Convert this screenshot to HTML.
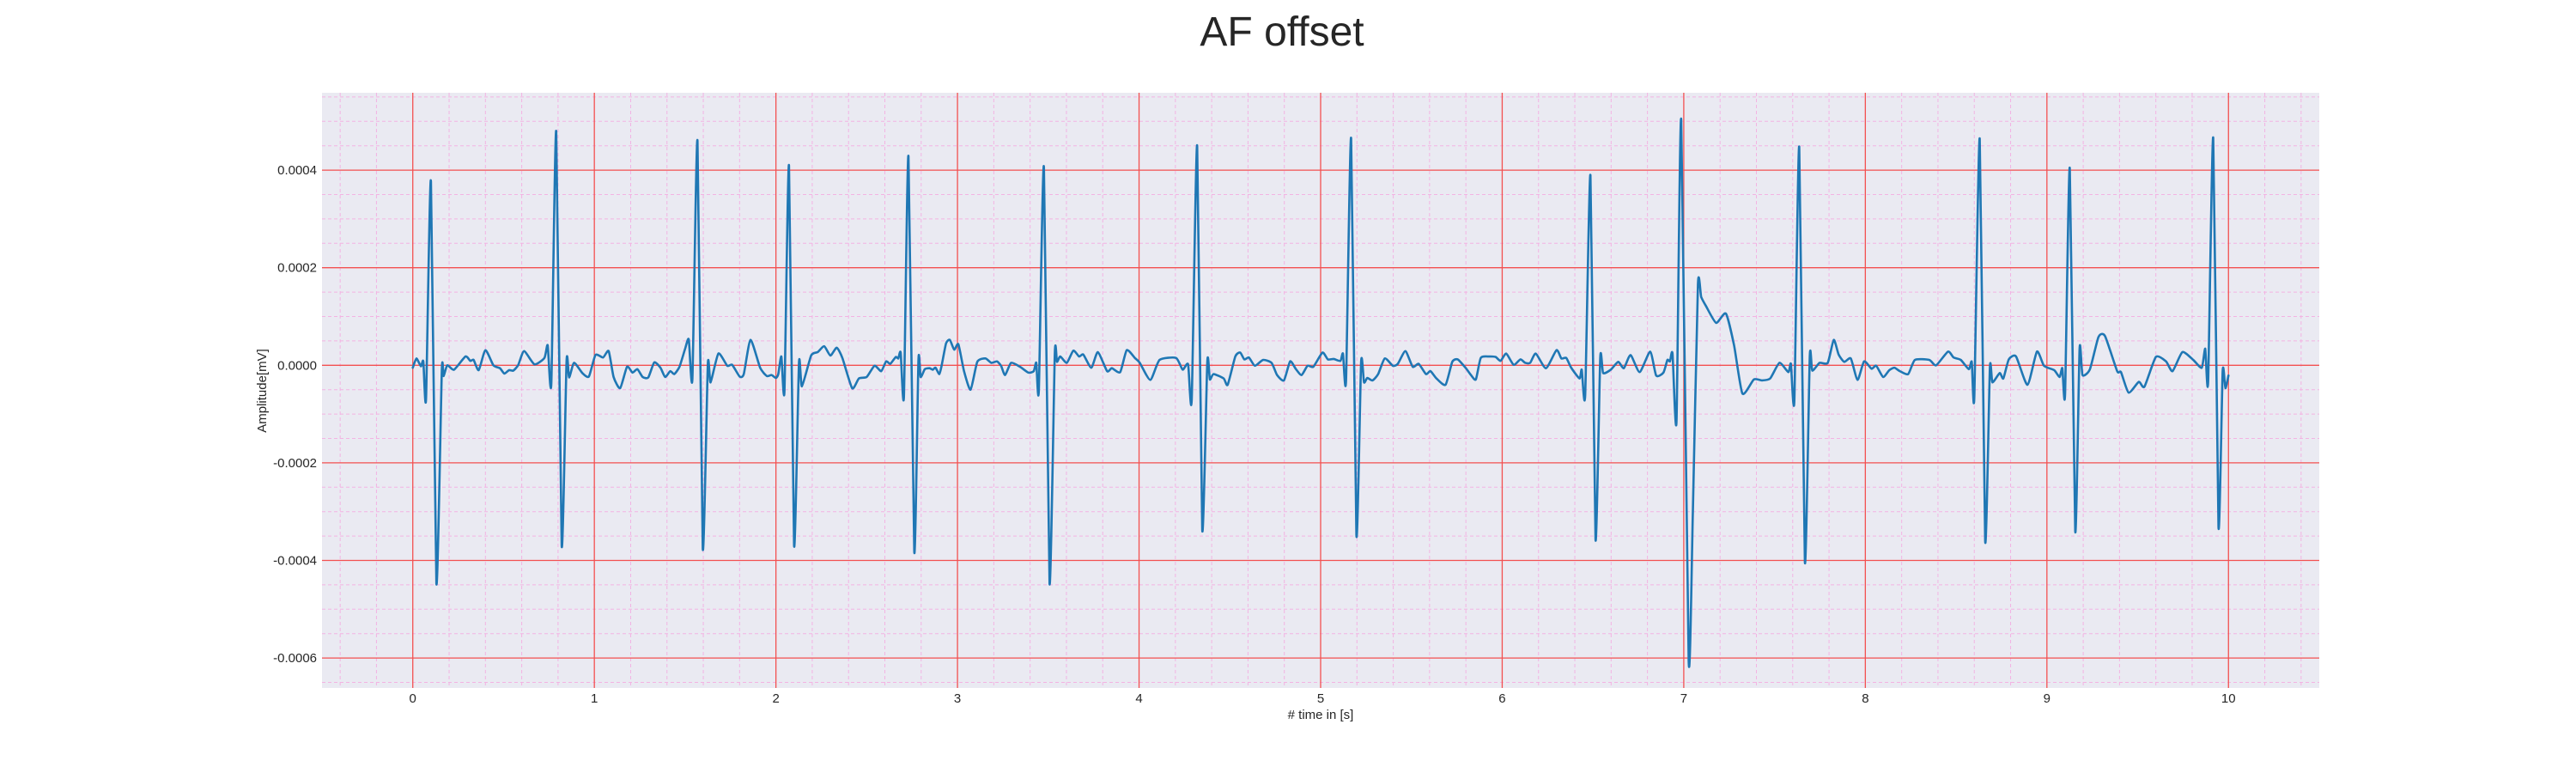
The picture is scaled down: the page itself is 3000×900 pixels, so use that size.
<!DOCTYPE html>
<html><head><meta charset="utf-8"><style>
html,body{margin:0;padding:0;background:#fff;}
svg{display:block;font-family:"Liberation Sans",sans-serif;}
</style></head><body>
<svg id="chart" width="3000" height="900" viewBox="0 0 3000 900" xmlns="http://www.w3.org/2000/svg">
<text x="1493" y="53" font-size="48" text-anchor="middle" fill="#262626">AF offset</text>
<rect x="375" y="108" width="2326" height="693" fill="#EAEAF2"/>
<g id="grid"></g>
<g id="ticks"></g>
<g id="series"></g>
<text x="1538" y="837" font-size="15" text-anchor="middle" fill="#262626"># time in [s]</text>
<text x="0" y="0" font-size="15" text-anchor="middle" fill="#262626" transform="translate(310,455) rotate(-90)">Amplitude[mV]</text>
</svg>
<script>
const xTicks = [0,1,2,3,4,5,6,7,8,9,10];
const yTicks = [0.0004,0.0002,0.0000,-0.0002,-0.0004,-0.0006];
const yTickLabels = ["0.0004","0.0002","0.0000","-0.0002","-0.0004","-0.0006"];
// signal samples: time [s] and amplitude in units of 1e-4 mV
const timeS = [0,0.02,0.045,0.058,0.073,0.10,0.13,0.16,0.17,0.19,0.227,0.29,0.317,0.335,0.363,0.40,0.444,0.48,0.504,0.53,0.553,0.58,0.613,0.67,0.725,0.743,0.763,0.79,0.82,0.847,0.861,0.888,0.934,0.97,1.006,1.048,1.079,1.106,1.142,1.18,1.21,1.237,1.266,1.297,1.33,1.364,1.39,1.418,1.44,1.469,1.50,1.52,1.54,1.568,1.597,1.625,1.64,1.683,1.732,1.759,1.80,1.823,1.86,1.913,1.95,1.976,2.0,2.013,2.03,2.047,2.072,2.10,2.127,2.143,2.194,2.23,2.266,2.30,2.335,2.366,2.42,2.457,2.50,2.543,2.58,2.607,2.63,2.66,2.674,2.687,2.705,2.73,2.762,2.785,2.797,2.82,2.846,2.864,2.879,2.90,2.913,2.937,2.958,2.982,3.005,3.036,3.072,3.109,3.154,3.186,3.217,3.24,3.262,3.295,3.344,3.39,3.42,3.434,3.448,3.476,3.507,3.536,3.548,3.566,3.602,3.638,3.67,3.693,3.737,3.773,3.824,3.85,3.896,3.932,3.977,4.004,4.062,4.113,4.204,4.24,4.27,4.29,4.32,4.348,4.376,4.39,4.41,4.466,4.488,4.53,4.557,4.58,4.605,4.638,4.683,4.73,4.76,4.798,4.832,4.864,4.895,4.928,4.96,5.01,5.04,5.072,5.109,5.123,5.14,5.168,5.197,5.223,5.239,5.257,5.286,5.317,5.353,5.398,5.425,5.467,5.507,5.54,5.58,5.605,5.638,5.688,5.725,5.755,5.80,5.828,5.855,5.882,5.928,5.964,5.991,6.022,6.063,6.10,6.127,6.154,6.185,6.241,6.299,6.326,6.353,6.38,6.426,6.438,6.457,6.486,6.514,6.54,6.556,6.598,6.639,6.67,6.707,6.757,6.815,6.848,6.888,6.91,6.924,6.938,6.96,6.986,7.027,7.05,7.078,7.096,7.123,7.178,7.232,7.277,7.323,7.386,7.431,7.476,7.527,7.576,7.59,7.609,7.636,7.667,7.694,7.708,7.748,7.793,7.826,7.853,7.884,7.92,7.957,7.993,8.034,8.06,8.098,8.132,8.16,8.19,8.236,8.273,8.352,8.39,8.455,8.486,8.526,8.57,8.586,8.60,8.63,8.66,8.686,8.70,8.74,8.76,8.79,8.83,8.893,8.945,8.984,9.04,9.07,9.085,9.10,9.126,9.156,9.18,9.196,9.237,9.284,9.32,9.387,9.408,9.45,9.506,9.537,9.60,9.656,9.692,9.746,9.806,9.853,9.872,9.888,9.916,9.945,9.968,9.983,10.0];
const ampE4 = [-0.05,0.14,-0.02,0.08,-0.69,3.77,-4.47,-0.1,-0.22,0,-0.09,0.18,0.09,0.11,-0.1,0.31,0,-0.06,-0.17,-0.1,-0.11,0,0.29,0.02,0.15,0.41,-0.37,4.79,-3.69,0.09,-0.25,0.05,-0.16,-0.23,0.21,0.16,0.29,-0.24,-0.47,-0.03,-0.15,-0.08,-0.24,-0.25,0.06,-0.05,-0.24,-0.12,-0.18,-0.03,0.34,0.53,-0.27,4.6,-3.75,0.02,-0.35,0.24,-0.01,0.01,-0.23,-0.18,0.52,-0.05,-0.22,-0.2,-0.26,-0.18,0.18,-0.53,4.09,-3.69,0.05,-0.43,0.2,0.27,0.39,0.2,0.36,0.15,-0.47,-0.27,-0.24,-0.01,-0.12,0.08,0.03,0.17,0.14,0.26,-0.64,4.28,-3.82,0.11,-0.24,-0.08,-0.06,-0.09,-0.05,-0.18,0,0.45,0.52,0.32,0.43,-0.12,-0.5,0.07,0.14,0.05,0.08,-0.01,-0.2,0.05,-0.03,-0.15,-0.12,0.05,-0.52,4.06,-4.47,0.24,0.07,0.18,0.05,0.3,0.18,0.22,-0.05,0.27,-0.12,-0.06,-0.14,0.31,0.15,0.05,-0.3,0.11,0.15,-0.09,0.02,-0.71,4.5,-3.37,0.08,-0.29,-0.18,-0.27,-0.4,0.18,0.26,0.12,0.16,-0.01,0.11,0.05,-0.2,-0.31,0.08,-0.08,-0.2,-0.01,-0.03,0.26,0.12,0.13,0.09,0.24,-0.31,4.65,-3.48,0.07,-0.35,-0.26,-0.31,-0.18,0.14,-0.01,0.03,0.29,-0.03,0.03,-0.18,-0.12,-0.27,-0.4,0.07,0.12,-0.06,-0.2,-0.29,0.15,0.18,0.17,0.09,0.24,0.01,0.12,0.05,0.05,0.24,-0.06,0.31,0.14,0.15,-0.05,-0.27,-0.09,-0.62,3.89,-3.57,0.15,-0.16,-0.09,0.07,-0.06,0.21,-0.14,0.28,-0.21,-0.15,0.11,0.08,0.24,-1.15,5.03,-6.05,-3.02,1.65,1.4,1.21,0.87,1.06,0.41,-0.58,-0.29,-0.31,-0.27,0.05,-0.14,0.03,-0.73,4.47,-4.03,0.18,-0.11,0.05,0.05,0.52,0.22,0.07,0.14,-0.3,0.08,-0.07,-0.01,-0.24,-0.1,-0.05,-0.12,-0.18,0.11,0.11,0,0.28,0.16,0.11,-0.08,0.07,-0.67,4.64,-3.6,-0.05,-0.35,-0.16,-0.27,0.12,0.18,-0.4,0.28,-0.01,-0.1,-0.24,-0.06,-0.6,4.04,-3.4,0.34,-0.2,-0.08,0.58,0.6,-0.12,-0.14,-0.56,-0.34,-0.44,0.17,0.08,-0.12,0.27,0.11,-0.05,0.34,-0.34,4.66,-3.31,-0.12,-0.47,-0.21];

const NS = "http://www.w3.org/2000/svg";
const L = 375, R = 2701, T = 108, B = 801;
const xMin = -0.5, xMax = 10.5;
const y0px = 425.3, pxPerE4 = 56.8;
const yMaxE4 = (y0px - T) / pxPerE4, yMinE4 = -(B - y0px) / pxPerE4;
function xs(t){ return L + (t - xMin) / (xMax - xMin) * (R - L); }
function ysE4(v){ return y0px - v * pxPerE4; }
function ys(v){ return ysE4(v * 1e4); }
function mk(tag, attrs, parent){ const e = document.createElementNS(NS, tag); for (const k in attrs) e.setAttribute(k, attrs[k]); parent.appendChild(e); return e; }

const grid = document.getElementById('grid');
const ticks = document.getElementById('ticks');
const minorColor = '#f3b3e3';
for (let i = -2; i <= 52; i++) {
  const t = i * 0.2; if (t < xMin || t > xMax) continue;
  if (i % 5 === 0) continue;
  const ln = mk('line', {x1: xs(t), x2: xs(t), y1: T, y2: B, stroke: minorColor, 'stroke-width': 1, 'stroke-dasharray': '4,3'}, grid);
  
  
}
for (let i = -14; i <= 12; i++) {
  const v = i * 0.5; if (v < yMinE4 || v > yMaxE4) continue;
  if (i % 4 === 0) continue;
  const ln = mk('line', {x1: L, x2: R, y1: ysE4(v), y2: ysE4(v), stroke: minorColor, 'stroke-width': 1, 'stroke-dasharray': '4,3'}, grid);
  
  
}
xTicks.forEach(t => {
  const ln = mk('line', {x1: xs(t), x2: xs(t), y1: T, y2: B, stroke: '#f35050', 'stroke-width': 1.3}, grid);
  
  
  const tx = mk('text', {x: xs(t), y: 818, 'font-size': 15, 'text-anchor': 'middle', fill: '#262626'}, ticks);
  tx.textContent = String(t);
  
  
});
yTicks.forEach((v, i) => {
  const ln = mk('line', {x1: L, x2: R, y1: ys(v), y2: ys(v), stroke: '#f35050', 'stroke-width': 1.3}, grid);
  
  
  const tx = mk('text', {x: 369, y: ys(v) + 5, 'font-size': 15, 'text-anchor': 'end', fill: '#262626'}, ticks);
  tx.textContent = yTickLabels[i];
  
  
});
const P = timeS.map((t, i) => [xs(t), ysE4(ampE4[i])]);
let d = 'M' + P[0][0].toFixed(2) + ',' + P[0][1].toFixed(2);
const k = 0.1;
for (let i = 0; i < P.length - 1; i++) {
  const p0 = P[Math.max(0, i - 1)], p1 = P[i], p2 = P[i + 1], p3 = P[Math.min(P.length - 1, i + 2)];
  const c1 = [p1[0] + (p2[0] - p0[0]) * k, p1[1] + (p2[1] - p0[1]) * k];
  const c2 = [p2[0] - (p3[0] - p1[0]) * k, p2[1] - (p3[1] - p1[1]) * k];
  d += 'C' + c1[0].toFixed(2) + ',' + c1[1].toFixed(2) + ' ' + c2[0].toFixed(2) + ',' + c2[1].toFixed(2) + ' ' + p2[0].toFixed(2) + ',' + p2[1].toFixed(2);
}
const path = mk('path', {d: d, fill: 'none', stroke: '#1f77b4', 'stroke-width': 2.6, 'stroke-linejoin': 'round', 'stroke-linecap': 'round'}, document.getElementById('series'));


</script>
</body></html>
